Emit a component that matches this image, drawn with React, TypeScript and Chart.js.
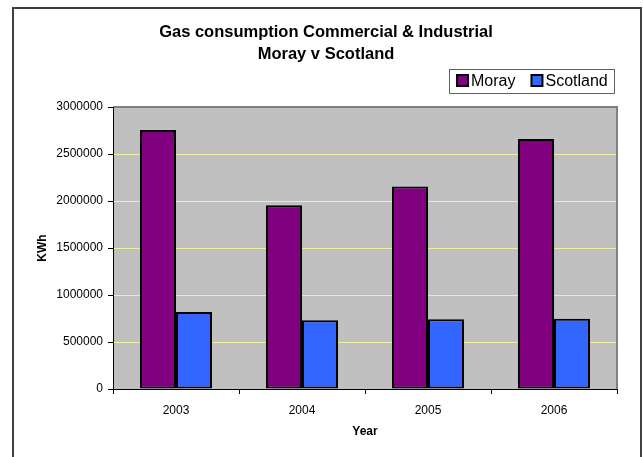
import React, { useEffect, useRef } from "react";
import { Chart, registerables } from "chart.js";

Chart.register(...registerables);

const categories = ["2003", "2004", "2005", "2006"];
const morayValues = [2755000, 1955000, 2155000, 2660000];
const scotlandValues = [820000, 732000, 742000, 748000];
const seriesLabels = ["Moray", "Scotland"];
const seriesColors = ["#800080", "#3366FF"];
const titleLines = ["Gas consumption Commercial & Industrial", "Moray v Scotland"];
const yAxisTitle = "KWh";
const xAxisTitle = "Year";
const yMax = 3000000;
const yStep = 500000;

const FONT = "'Liberation Sans', Arial, sans-serif";

const decorPlugin = {
  id: "decor",
  beforeDraw(chart: any) {
    const { ctx, chartArea: a } = chart;
    ctx.save();
    ctx.fillStyle = "#C0C0C0";
    ctx.fillRect(a.left, a.top, a.right - a.left, a.bottom - a.top);
    ctx.restore();
  },
  afterDatasetsDraw(chart: any) {
    const { ctx, chartArea: a } = chart;
    ctx.save();
    ctx.strokeStyle = "#808080";
    ctx.lineWidth = 2;
    ctx.beginPath();
    ctx.moveTo(a.left, a.top);
    ctx.lineTo(a.right, a.top);
    ctx.lineTo(a.right, a.bottom);
    ctx.stroke();
    ctx.strokeStyle = "#000";
    ctx.lineWidth = 1;
    ctx.beginPath();
    ctx.moveTo(a.left + 0.5, a.top);
    ctx.lineTo(a.left + 0.5, a.bottom + 0.5);
    ctx.lineTo(a.right, a.bottom + 0.5);
    ctx.stroke();
    ctx.restore();
  },
  afterDraw(chart: any) {
    const { ctx, chartArea: a } = chart;
    ctx.save();
    // outer frame
    ctx.strokeStyle = "#404040";
    ctx.lineWidth = 2;
    ctx.beginPath();
    ctx.moveTo(13, 460);
    ctx.lineTo(13, 8);
    ctx.lineTo(641, 8);
    ctx.lineTo(641, 460);
    ctx.stroke();

    // title
    ctx.fillStyle = "#000";
    ctx.textAlign = "center";
    ctx.textBaseline = "middle";
    ctx.font = `bold 16.5px ${FONT}`;
    ctx.fillText(titleLines[0], 326, 32);
    ctx.fillText(titleLines[1], 326, 54);

    // legend
    const lx = 449, ly = 69, lw = 165, lh = 24;
    ctx.fillStyle = "#fff";
    ctx.fillRect(lx, ly, lw, lh);
    ctx.strokeStyle = "#606060";
    ctx.lineWidth = 1;
    ctx.strokeRect(lx + 0.5, ly + 0.5, lw, lh);
    ctx.font = `16px ${FONT}`;
    ctx.textAlign = "left";
    ctx.textBaseline = "middle";
    let x = 457;
    chart.data.datasets.forEach((ds: any) => {
      ctx.fillStyle = ds.backgroundColor;
      ctx.fillRect(x, ly + 6, 11, 11);
      ctx.strokeStyle = "#000";
      ctx.lineWidth = 2;
      ctx.strokeRect(x, ly + 6, 11, 11);
      ctx.fillStyle = "#000";
      ctx.fillText(ds.label, x + 14, ly + 12.5);
      x += 14 + ctx.measureText(ds.label).width + 16;
    });

    // axis titles
    ctx.font = `bold 12px ${FONT}`;
    ctx.textAlign = "center";
    ctx.fillText(xAxisTitle, (a.left + a.right) / 2, 432);
    ctx.translate(43, (a.top + a.bottom) / 2);
    ctx.rotate(-Math.PI / 2);
    ctx.fillText(yAxisTitle, 0, 0);
    ctx.restore();
  },
};

export default function App() {
  const ref = useRef<HTMLCanvasElement>(null);
  useEffect(() => {
    if (!ref.current) return;
    const chart = new Chart(ref.current, {
      type: "bar",
      data: {
        labels: categories,
        datasets: [
          {
            label: seriesLabels[0],
            data: morayValues,
            backgroundColor: seriesColors[0],
            borderColor: "#000",
            borderWidth: 2,
            borderSkipped: false,
            categoryPercentage: 0.5714,
            barPercentage: 1,
          },
          {
            label: seriesLabels[1],
            data: scotlandValues,
            backgroundColor: seriesColors[1],
            borderColor: "#000",
            borderWidth: 2,
            borderSkipped: false,
            categoryPercentage: 0.5714,
            barPercentage: 1,
          },
        ] as any,
      },
      options: {
        animation: false,
        responsive: true,
        maintainAspectRatio: false,
        layout: { padding: { left: 0, right: 26, top: 107, bottom: 0 } },
        plugins: {
          legend: { display: false },
          title: { display: false },
          tooltip: { enabled: false },
        },
        scales: {
          x: {
            offset: true,
            grid: {
              display: true,
              drawOnChartArea: false,
              drawTicks: true,
              tickLength: 5,
              tickColor: "#000",
              offset: true,
              color: "#000",
            },
            border: { display: true, color: "#000", width: 1 },
            ticks: {
              color: "#000",
              padding: 9,
              font: { size: 12, family: FONT },
            },
            afterFit: (s: any) => {
              s.height = 68;
            },
          },
          y: {
            min: 0,
            max: yMax,
            ticks: {
              stepSize: yStep,
              color: "#000",
              padding: 5,
              font: { size: 12, family: FONT },
              callback: (v: any) => String(v),
            },
            grid: {
              color: "#F0F0A0",
              lineWidth: 1,
              drawTicks: true,
              tickLength: 5,
              tickColor: "#000",
            },
            border: { display: true, color: "#000", width: 1 },
            afterFit: (s: any) => {
              s.width = 113;
            },
          },
        },
      } as any,
      plugins: [decorPlugin],
    });
    return () => chart.destroy();
  }, []);
  return (
    <div
      style={{
        position: "fixed",
        left: 0,
        top: 0,
        width: 643,
        height: 457,
        background: "#fff",
      }}
    >
      <canvas ref={ref} />
    </div>
  );
}
